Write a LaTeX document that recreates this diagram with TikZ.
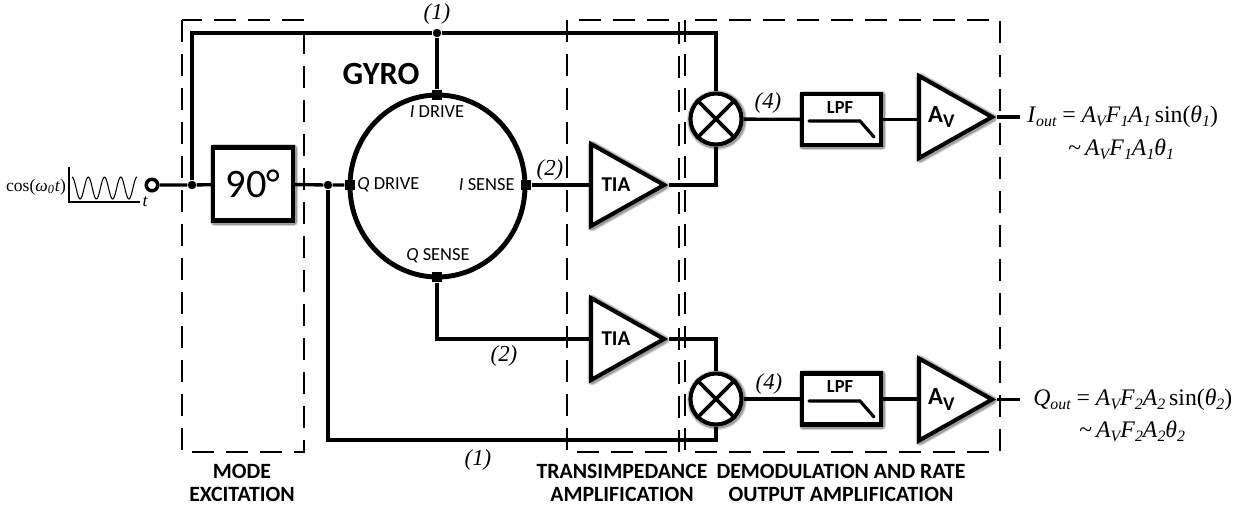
\documentclass[tikz,border=0pt]{standalone}
\usepackage{fontspec}
\setmainfont{Liberation Serif}
\newfontfamily\calfont{Carlito}
\usetikzlibrary{shapes.geometric,shadows,positioning,calc}
\newcommand{\subi}[1]{\raisebox{-0.4ex}{\fontsize{9}{10}\selectfont\itshape #1}}
\newcommand{\gainv}{A\raisebox{-0.45ex}{\fontsize{11}{12}\selectfont V}}

\begin{document}
\begin{tikzpicture}[
  x=0.2mm, y=-0.2mm,
  softshade/.style={
    drop shadow={shadow xshift=0.2mm, shadow yshift=-0.2mm, opacity=0.18, draw=black, line width=5pt, line join=round},
    drop shadow={shadow xshift=0.2mm, shadow yshift=-0.2mm, opacity=0.25, draw=black, line width=3.6pt, line join=round}},
  wire/.style={line width=1.9pt},
  dashbox/.style={line width=1.4pt, dash pattern=on 4.4mm off 2.4mm},
  dot/.style={circle, fill=black, inner sep=0pt, minimum size=1.7mm},
  port/.style={rectangle, fill=black, inner sep=0pt, minimum size=2.1mm},
  amp/.style={isosceles triangle, isosceles triangle stretches, draw, fill=white, softshade,
              line width=2.3pt, inner sep=0pt, minimum height=14.6mm, minimum width=16.4mm,
              font=\calfont\bfseries\fontsize{12}{14}\selectfont},
  mixer/.style={circle, draw, fill=white, softshade, line width=2.3pt, inner sep=0pt, minimum size=10.2mm},
  lpf/.style={rectangle, draw, fill=white, softshade, line width=2.3pt, inner sep=0pt,
              minimum width=15.8mm, minimum height=10.2mm},
  tag/.style={font=\itshape\fontsize{13}{14}\selectfont},
  pin/.style={inner sep=0pt, font=\calfont\fontsize{10.5}{12}\selectfont},
  stage/.style={font=\calfont\bfseries\fontsize{12.4}{13}\selectfont, align=center, inner sep=0pt},
  eqn/.style={anchor=base west, inner sep=0pt, font=\fontsize{13.5}{15}\selectfont}
]
\useasboundingbox (0,0) rectangle (1254,508);

% --- stage boundaries ---
\draw[dashbox] (182,20) rectangle (304,452);
\draw[dashbox] (567,20) rectangle (679,452);
\draw[dashbox] (685,20) rectangle (1000,452);

% --- input signal ---
\draw[line width=1.5pt] (69,167) |- (140,202);
\draw[line width=0.6pt] plot[domain=0:4, samples=90] ({72+16.25*\x},{188-11*cos(360*\x)});
\node[inner sep=0pt, font=\fontsize{10}{12}\selectfont] (inlabel) at (36,187) {cos(\textit{ω\textsubscript{0}t})};
\node[inner sep=0pt, font=\itshape\fontsize{10}{12}\selectfont] (tlabel) at (145,202) {t};
\node[circle, draw, fill=white, line width=2pt, inner sep=0pt, minimum size=2.3mm] (in) at (152,185) {};

% --- mode excitation ---
\node[dot] (jin) at (192,185) {};
\node[dot] (jtop) at (437,33) {};
\node[dot] (jq) at (328,185) {};
\node[rectangle, draw, fill=white, softshade, line width=2.3pt, inner sep=0pt,
      minimum width=16mm, minimum height=14.6mm, font=\calfont\fontsize{23}{26}\selectfont]
  (shift) at (253,184) {90°};

% --- gyro ---
\node[ellipse, draw, line width=2.8pt, inner sep=0pt, minimum width=35mm, minimum height=36.4mm] (ring) at (437.5,186) {};
\node[port] (pid) at (437,95) {};
\node[port] (pis) at (526,185) {};
\node[port] (pqd) at (350,185) {};
\node[port] (pqs) at (437,277) {};
\node[inner sep=0pt, font=\calfont\bfseries\fontsize{18.4}{20}\selectfont] (gyro) at (381,74) {GYRO};
\node[pin] (lid) at (437,112) {\textit{I} DRIVE};
\node[pin, anchor=east] (lis) at (515,185) {\textit{I} SENSE};
\node[pin, anchor=west] (lqd) at (357,185) {\textit{Q} DRIVE};
\node[pin] (lqs) at (438,256) {\textit{Q} SENSE};

% --- transimpedance ---
\node[amp, anchor=lower side] (tia1) at (589,185) {TIA};
\node[amp, anchor=lower side] (tia2) at (589,339) {TIA};

% --- demodulation and output ---
\node[mixer] (mix1) at (716,119) {};
\node[mixer] (mix2) at (716,399) {};
\foreach \m in {mix1,mix2} {
  \draw[line width=2.1pt] (\m.45) -- (\m.225);
  \draw[line width=2.1pt] (\m.135) -- (\m.315);
}
\node[lpf] (lpf1) at (841.5,119.5) {};
\node[lpf] (lpf2) at (841.5,399) {};
\node[font=\calfont\bfseries\fontsize{10.5}{12}\selectfont, inner sep=0pt] (ltxt1) at (840,108) {LPF};
\node[font=\calfont\bfseries\fontsize{10.5}{12}\selectfont, inner sep=0pt] (ltxt2) at (840,387) {LPF};
\draw[line width=1.8pt, line cap=round] (809,121) -- (860,121) -- (874,137);
\draw[line width=1.8pt, line cap=round] (809,401) -- (860,401) -- (874,417);
\node[amp, anchor=lower side, font=\calfont\bfseries\fontsize{14}{15}\selectfont] (av1) at (917,117) {\gainv};
\node[amp, anchor=lower side, font=\calfont\bfseries\fontsize{14}{15}\selectfont] (av2) at (917,399.5) {\gainv};
\coordinate (out1) at (1020,117);
\coordinate (out2) at (1020,399.5);

% --- connections ---
\draw[wire] (in) -- (jin) -- (shift);
\draw[wire] (shift) -- (jq) -- (pqd);
\draw[wire] (jin) |- (jtop);
\draw[wire] (jtop) -- (pid);
\draw[wire] (jtop) -| (mix1);
\draw[wire] (pis) -- (tia1.lower side);
\draw[wire] (tia1.apex) -| (mix1);
\draw[wire] (pqs) |- (tia2.lower side);
\draw[wire] (tia2.apex) -| (mix2);
\draw[wire] (jq) |- (478,440) -| (mix2);
\draw[wire] (mix1) -- (lpf1);
\draw[wire] (mix2) -- (lpf2);
\draw[wire] (lpf1) -- (av1.lower side |- lpf1);
\draw[wire] (lpf2) -- (av2.lower side |- lpf2);
\draw[wire] (av1.apex) -- (out1);
\draw[wire] (av2.apex) -- (out2);

% --- signal tags ---
\node[tag] (t1a) at (437,14) {(1)};
\node[tag] (t2a) at (550,170) {(2)};
\node[tag] (t4a) at (768,103) {(4)};
\node[tag] (t2b) at (504,356) {(2)};
\node[tag] (t1b) at (478,460) {(1)};
\node[tag] (t4b) at (769,384) {(4)};

% --- outputs ---
\node[eqn] (eqi) at (1027,122) {\textit{I}\subi{out} = \textit{A}\subi{V}\textit{F}\subi{1}\textit{A}\subi{1}\,sin(\textit{θ}\subi{1})};
\node[eqn] (eqia) at (1068,155) {\textasciitilde\,\textit{A}\subi{V}\textit{F}\subi{1}\textit{A}\subi{1}\textit{θ}\subi{1}};
\node[eqn] (eqq) at (1033,405) {\textit{Q}\subi{out} = \textit{A}\subi{V}\textit{F}\subi{2}\textit{A}\subi{2}\,sin(\textit{θ}\subi{2})};
\node[eqn] (eqqa) at (1079,437) {\textasciitilde\,\textit{A}\subi{V}\textit{F}\subi{2}\textit{A}\subi{2}\textit{θ}\subi{2}};

% --- stage names ---
\node[stage] (smode) at (242,482.5) {MODE\\EXCITATION};
\node[stage] (stia) at (622,482.5) {TRANSIMPEDANCE\\AMPLIFICATION};
\node[stage] (sdem) at (841,482.5) {DEMODULATION AND RATE\\OUTPUT AMPLIFICATION};
\end{tikzpicture}
\end{document}
